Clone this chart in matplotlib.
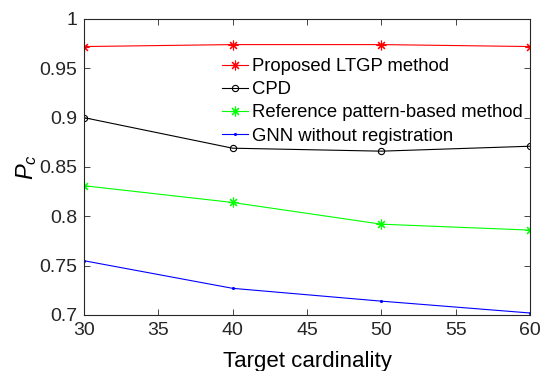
import matplotlib
matplotlib.use("Agg")
import matplotlib.pyplot as plt

plt.rcParams['font.family'] = ['Liberation Sans', 'DejaVu Sans']
plt.rcParams['mathtext.fontset'] = 'custom'
plt.rcParams['mathtext.it'] = 'Liberation Sans:italic'
plt.rcParams['mathtext.rm'] = 'Liberation Sans'

# data
x = [30, 40, 50, 60]
ltgp = [0.972, 0.974, 0.974, 0.972]
cpd = [0.900, 0.869, 0.866, 0.871]
refpat = [0.831, 0.814, 0.792, 0.786]
gnn = [0.755, 0.727, 0.714, 0.702]

labels = ["Proposed LTGP method", "CPD",
          "Reference pattern-based method", "GNN without registration"]

fig = plt.figure(figsize=(5.41, 3.71), dpi=100)
ax = fig.add_axes([0.155, 0.151, 0.825, 0.798])

star = (8, 2, 0)  # matlab-like asterisk
ax.plot(x, ltgp, '-', marker=star, color='#ff0000', lw=0.8, ms=7, mew=0.8, label=labels[0])
ax.plot(x, cpd, '-o', color='black', lw=0.8, ms=4.5, mfc='none', mew=0.8, label=labels[1])
ax.plot(x, refpat, '-', marker=star, color='#00ff00', lw=0.8, ms=7, mew=0.8, label=labels[2])
ax.plot(x, gnn, '-', marker='.', color='#0000ff', lw=0.8, ms=2.5, label=labels[3])

ax.set_xlim(30, 60)
ax.set_ylim(0.7, 1.0)
ax.set_xticks([30, 35, 40, 45, 50, 55, 60])
ax.set_yticks([0.7, 0.75, 0.8, 0.85, 0.9, 0.95, 1.0])
ax.set_yticklabels(['0.7', '0.75', '0.8', '0.85', '0.9', '0.95', '1'])
ax.tick_params(direction='in', top=True, right=True, length=4, width=0.6,
               labelsize=14, colors='#262626', pad=5)
for s in ax.spines.values():
    s.set_linewidth(0.8)
    s.set_color('#262626')

ax.set_xlabel("Target cardinality", fontsize=16, labelpad=9)
ax.set_ylabel(r"$P_c$", fontsize=17, labelpad=0)

ax.legend(loc='upper left', bbox_to_anchor=(0.31, 0.867), frameon=False,
          fontsize=13.3, handlelength=1.4, handletextpad=0.2, numpoints=1,
          labelspacing=0.33, borderaxespad=0, borderpad=0)

fig.savefig("out.png", dpi=100)
